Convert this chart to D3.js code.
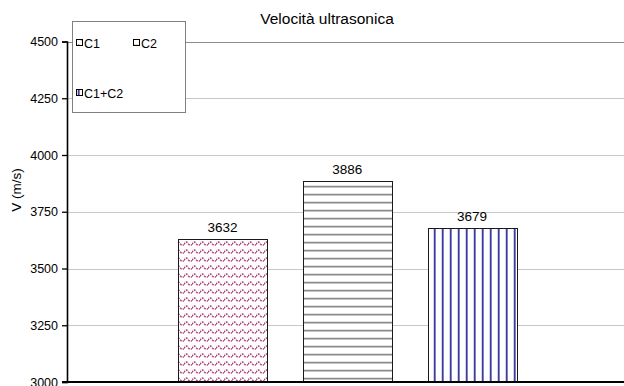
<!DOCTYPE html>
<html>
<head>
<meta charset="utf-8">
<script src="https://cdn.jsdelivr.net/npm/d3@7"></script>
<style>
  body { margin: 0; background: #FFFFFF; }
  svg { display: block; font-family: "Liberation Sans", Arial, sans-serif; }
</style>
</head>
<body>
<svg></svg>
<script>
//--Data
const series = ["C1", "C2", "C1+C2"];
const values = [3632, 3886, 3679];
const yTicks = [3000, 3250, 3500, 3750, 4000, 4250, 4500];
const title = "Velocità ultrasonica";
const yLabel = "V (m/s)";

//Shared info
var canvas = {
  width: 624,
  height: 386,
  left: 67,
  right: 627,
  top: 41.5,
  bottom: 382
};
canvas.y = d3.scaleLinear().domain([3000, 4500]).range([canvas.bottom, canvas.top]);
// one category, three series side by side (bars 88px wide, 124.5px apart)
canvas.x = d3.scaleBand().domain(series).range([159.5, 535]).paddingInner(0.29).paddingOuter(0.15);

let root = d3.select("svg")
  .attr("width", canvas.width)
  .attr("height", canvas.height);

//--Patterns
let defs = root.append("defs");

// C1: wavy dotted plum pattern
let p1 = defs.append("pattern")
  .attr("id", "pat-c1")
  .attr("patternUnits", "userSpaceOnUse")
  .attr("width", 8).attr("height", 8);
p1.append("rect").attr("width", 8).attr("height", 8).attr("fill", "#FFFFFF");
p1.append("path")
  .attr("d", "M0,4.5 C1.3,1.5 2.7,1.5 4,3.5 C5.3,5.5 6.7,5.5 8,4.5")
  .attr("fill", "none")
  .attr("stroke", "#B04A80")
  .attr("stroke-width", 1.5)
  .attr("stroke-dasharray", "2,1");

// C2: horizontal grey lines
let p2 = defs.append("pattern")
  .attr("id", "pat-c2")
  .attr("patternUnits", "userSpaceOnUse")
  .attr("width", 8).attr("height", 8);
p2.append("rect").attr("width", 8).attr("height", 8).attr("fill", "#FFFFFF");
p2.append("rect").attr("y", 2).attr("width", 8).attr("height", 1).attr("fill", "#8A8A8A");
p2.append("rect").attr("y", 3).attr("width", 8).attr("height", 1).attr("fill", "#C4C4C4");
p2.append("rect").attr("y", 1).attr("width", 8).attr("height", 1).attr("fill", "#E2E2E2");

// C1+C2: vertical blue lines
let p3 = defs.append("pattern")
  .attr("id", "pat-c3")
  .attr("patternUnits", "userSpaceOnUse")
  .attr("width", 8).attr("height", 8);
p3.append("rect").attr("width", 8).attr("height", 8).attr("fill", "#FFFFFF");
p3.append("rect").attr("x", 2).attr("width", 1).attr("height", 8).attr("fill", "#3E3E9C");
p3.append("rect").attr("x", 3).attr("width", 1).attr("height", 8).attr("fill", "#8080C4");
p3.append("rect").attr("x", 1).attr("width", 1).attr("height", 8).attr("fill", "#D0D0EA");

const fills = ["url(#pat-c1)", "url(#pat-c2)", "url(#pat-c3)"];

//--Gridlines
root.append("g")
  .selectAll("line")
  .data(yTicks.slice(1))
  .enter()
  .append("line")
  .attr("x1", canvas.left)
  .attr("x2", canvas.width)
  .attr("y1", d => Math.round(canvas.y(d)) + 0.5)
  .attr("y2", d => Math.round(canvas.y(d)) + 0.5)
  .attr("stroke", d => d === 4500 ? "#8C8C8C" : "#C8C8C8")
  .attr("stroke-width", 1);

//--Bars
root.append("g")
  .selectAll("rect")
  .data(values)
  .enter()
  .append("rect")
  .attr("x", (d, i) => Math.round(canvas.x(series[i])) + 0.5)
  .attr("y", d => Math.round(canvas.y(d)) + 0.5)
  .attr("width", Math.round(canvas.x.bandwidth()))
  .attr("height", d => canvas.bottom - Math.round(canvas.y(d)))
  .attr("fill", (d, i) => fills[i])
  .attr("stroke", "#1A1A1A")
  .attr("stroke-width", 1);

//Value labels
root.append("g")
  .selectAll("text")
  .data(values)
  .enter()
  .append("text")
  .attr("x", (d, i) => canvas.x(series[i]) + canvas.x.bandwidth() / 2)
  .attr("y", d => canvas.y(d) - 7)
  .attr("text-anchor", "middle")
  .style("font-size", "13.5px")
  .attr("fill", "#000000")
  .text(d => d);

//--Axes
let yAxis = root.append("g")
  .attr("transform", "translate(" + canvas.left + ",0)")
  .call(d3.axisLeft(canvas.y).tickValues(yTicks).tickSize(5).tickPadding(4).tickFormat(d3.format("d")));
yAxis.select(".domain").attr("stroke", "#000000").attr("stroke-width", 1.6);
yAxis.selectAll(".tick line").attr("stroke", "#000000").attr("stroke-width", 1.3);
yAxis.selectAll(".tick text")
  .style("font-size", "12.5px")
  .style("font-family", "Liberation Sans, Arial, sans-serif")
  .attr("fill", "#000000");

root.append("line")
  .attr("x1", canvas.left - 5)
  .attr("x2", canvas.width)
  .attr("y1", canvas.bottom)
  .attr("y2", canvas.bottom)
  .attr("stroke", "#000000")
  .attr("stroke-width", 2);

//Axis title
root.append("text")
  .attr("transform", "translate(21,190) rotate(-90)")
  .attr("text-anchor", "middle")
  .style("font-size", "13.5px")
  .text(yLabel);

//Chart title
root.append("text")
  .attr("x", 327)
  .attr("y", 24)
  .attr("text-anchor", "middle")
  .style("font-size", "15.5px")
  .text(title);

//--Legend
let legend = root.append("g");
legend.append("rect")
  .attr("x", 72.5).attr("y", 21.5)
  .attr("width", 113).attr("height", 91)
  .attr("fill", "#FFFFFF")
  .attr("stroke", "#808080")
  .attr("stroke-width", 1);

const legendPos = [[76, 43], [133, 43], [76, 93]];
let items = legend.selectAll("g.item")
  .data(series)
  .enter()
  .append("g")
  .attr("class", "item")
  .attr("transform", (d, i) => "translate(" + legendPos[i][0] + "," + legendPos[i][1] + ")");
items.append("rect")
  .attr("x", 0.5).attr("y", -3.5)
  .attr("width", 6).attr("height", 6)
  .attr("fill", (d, i) => fills[i])
  .attr("stroke", "#000000")
  .attr("stroke-width", 1);
items.append("text")
  .attr("x", 8)
  .attr("y", 4.5)
  .style("font-size", "12.5px")
  .text(d => d);
</script>
</body>
</html>
